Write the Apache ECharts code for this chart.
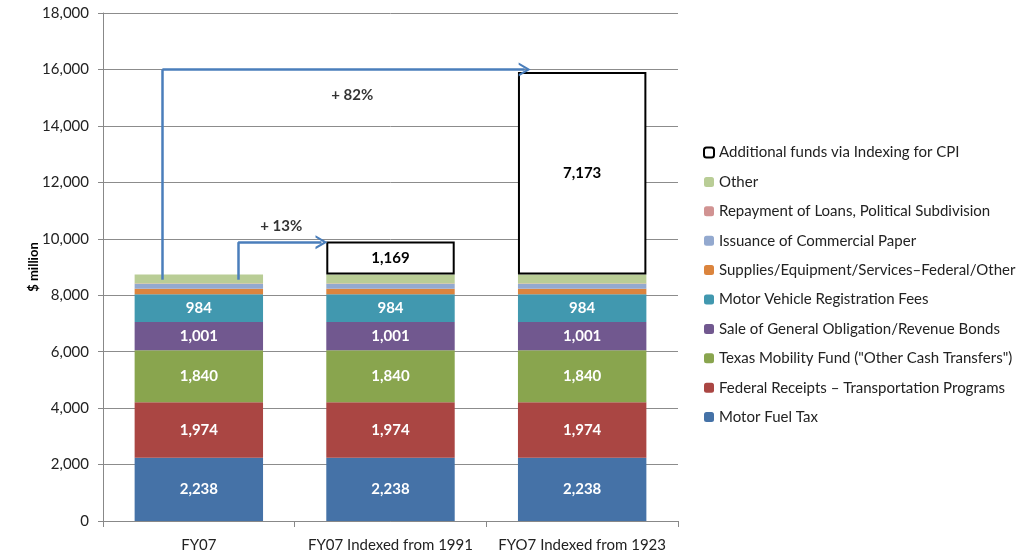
<!DOCTYPE html>
<html>
<head>
<meta charset="utf-8">
<script src="https://cdn.jsdelivr.net/npm/echarts@6/dist/echarts.min.js"></script>
<style>
  html, body { margin: 0; padding: 0; background: #fff; }
  #chart { width: 1021px; height: 556px; }
</style>
</head>
<body>
<div id="chart"></div>
<script>
// categories and stacked values, $ million
var categories = ['FY07', 'FY07 Indexed from 1991', 'FYO7 Indexed from 1923'];
var motorFuel   = [2238, 2238, 2238];
var federal     = [1974, 1974, 1974];
var mobility    = [1840, 1840, 1840];
var bonds       = [1001, 1001, 1001];
var registration= [984, 984, 984];
var supplies    = [195, 195, 195];
var commPaper   = [165, 165, 165];
var repayment   = [15, 15, 15];
var other       = [325, 325, 325];
var additional  = ['-', 1169, 7173];
var yTicks = [0, 18000, 2000];

// arrow annotations (x in category units 0..3, y in $ million)
var arrowBig   = [[0.31, 8550], [0.31, 16000], [2.20, 16000]];
var arrowSmall = [[0.705, 8550], [0.705, 9880], [1.14, 9880]];
var notes = [[1.30, 15100, '+ 82%'], [0.93, 10450, '+ 13%']];

var FONT = 'Lato';
var chart = echarts.init(document.getElementById('chart'));

function fmt(v) { return Number(v).toLocaleString('en-US'); }

function barSeries(name, data, color, labelled) {
	return {
		name: name,
		type: 'bar',
		stack: 'total',
		barWidth: '67%',
		data: data,
		itemStyle: { color: color },
		label: {
			show: labelled,
			color: '#fff',
			fontFamily: FONT,
			fontWeight: 'bold',
			fontSize: 15,
			formatter: function (p) { return fmt(p.value); }
		}
	};
}

// open chevron, drawn pointing up (ECharts turns it along the line)
var CHEVRON = 'path://M0,12 L7,0 L14,12 L11.6,12 L7,4.2 L2.4,12 Z';

function arrowLines(pts) {
	return [
		[{ coord: pts[0], symbol: 'none' }, { coord: pts[1], symbol: 'none' }],
		[{ coord: pts[1], symbol: 'none' }, { coord: pts[2], symbol: CHEVRON, symbolSize: [14, 12] }]
	];
}

var legendNames = [
	'Additional funds via Indexing for CPI',
	'Other',
	'Repayment of Loans, Political Subdivision',
	'Issuance of Commercial Paper',
	'Supplies/Equipment/Services\u2013Federal/Other',
	'Motor Vehicle Registration Fees',
	'Sale of General Obligation/Revenue Bonds',
	'Texas Mobility Fund ("Other Cash Transfers")',
	'Federal Receipts \u2013 Transportation Programs',
	'Motor Fuel Tax'
];

var option = {
	animation: false,
	backgroundColor: '#fff',
	textStyle: { fontFamily: FONT },
	grid: { left: 103, right: 343, top: 13, bottom: 35 },
	legend: {
		data: legendNames,
		orient: 'vertical',
		left: 698,
		top: 140,
		itemWidth: 10,
		itemHeight: 10,
		itemGap: 14.4,
		textStyle: { fontFamily: FONT, fontSize: 15, color: '#222', padding: [0, 0, 0, 0] }
	},
	xAxis: [{
		type: 'category',
		data: categories,
		axisLine: { lineStyle: { color: '#888' } },
		axisTick: { show: true, length: 6, lineStyle: { color: '#888' } },
		axisLabel: { interval: 0, hideOverlap: false, color: '#222', fontSize: 15, fontFamily: FONT, margin: 17 }
	}, {
		type: 'value',
		min: 0,
		max: 3,
		show: false
	}],
	yAxis: {
		type: 'value',
		min: yTicks[0],
		max: yTicks[1],
		interval: yTicks[2],
		name: '$ million',
		nameLocation: 'middle',
		nameGap: 63,
		nameMoveOverlap: false,
		nameTextStyle: { fontFamily: FONT, fontWeight: 'bold', fontSize: 13, color: '#000' },
		axisLine: { show: true, lineStyle: { color: '#888' } },
		axisTick: { show: true, length: 5, lineStyle: { color: '#888' } },
		axisLabel: { color: '#222', fontSize: 15, fontFamily: FONT, margin: 14, formatter: fmt },
		splitLine: { lineStyle: { color: '#8c8c8c', width: 1 } }
	},
	series: [
		barSeries('Motor Fuel Tax', motorFuel, '#4572A7', true),
		barSeries('Federal Receipts \u2013 Transportation Programs', federal, '#AA4643', true),
		barSeries('Texas Mobility Fund ("Other Cash Transfers")', mobility, '#89A54E', true),
		barSeries('Sale of General Obligation/Revenue Bonds', bonds, '#71588F', true),
		barSeries('Motor Vehicle Registration Fees', registration, '#4198AF', true),
		barSeries('Supplies/Equipment/Services\u2013Federal/Other', supplies, '#DB843D', false),
		barSeries('Issuance of Commercial Paper', commPaper, '#93A9CF', false),
		barSeries('Repayment of Loans, Political Subdivision', repayment, '#D19392', false),
		barSeries('Other', other, '#B9CD96', false),
		{
			name: 'Additional funds via Indexing for CPI',
			type: 'bar',
			stack: 'total',
			barWidth: '67%',
			data: additional,
			itemStyle: { color: '#fff', borderColor: '#000', borderWidth: 2 },
			label: {
				show: true,
				color: '#000',
				fontFamily: FONT,
				fontWeight: 'bold',
				fontSize: 15,
				formatter: function (p) { return fmt(p.value); }
			}
		},
		{
			name: 'notes',
			type: 'scatter',
			xAxisIndex: 1,
			symbolSize: 0,
			z: 10,
			data: notes,
			label: {
				show: true,
				position: 'inside',
				color: '#000',
				fontFamily: FONT,
				fontWeight: 'bold',
				fontSize: 15,
				formatter: function (p) { return p.value[2]; }
			},
			markLine: {
				silent: true,
				symbol: 'none',
				label: { show: false },
				lineStyle: { color: '#4A7EBB', width: 2.5, type: 'solid' },
				data: arrowLines(arrowBig).concat(arrowLines(arrowSmall))
			}
		}
	]
};

chart.setOption(option);
</script>
</body>
</html>
